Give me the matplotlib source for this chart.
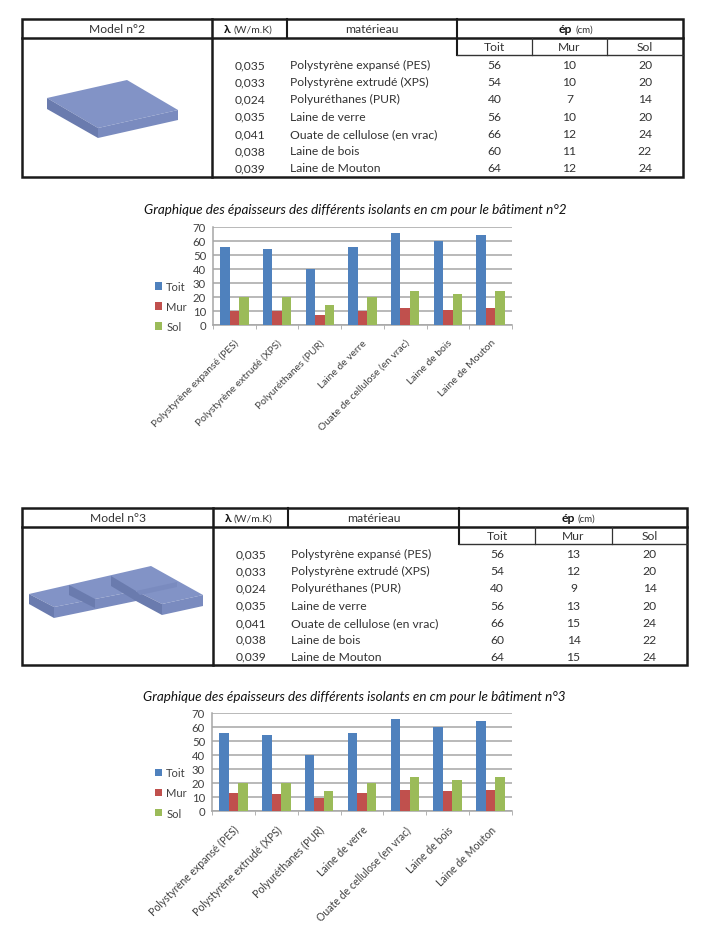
import matplotlib
matplotlib.use('Agg')
import matplotlib.pyplot as plt
from matplotlib.patches import Polygon, Rectangle

plt.rcParams['font.family'] = ['Lato', 'DejaVu Sans']

W, H = 705, 929

materials = ['Polystyrène expansé (PES)', 'Polystyrène extrudé (XPS)', 'Polyuréthanes (PUR)',
             'Laine de verre', 'Ouate de cellulose (en vrac)', 'Laine de bois', 'Laine de Mouton']
lambdas = ['0,035', '0,033', '0,024', '0,035', '0,041', '0,038', '0,039']
toit = [56, 54, 40, 56, 66, 60, 64]
sol = [20, 20, 14, 20, 24, 22, 24]
mur_2 = [10, 10, 7, 10, 12, 11, 12]
mur_3 = [13, 12, 9, 13, 15, 14, 15]
series_names = ['Toit', 'Mur', 'Sol']
series_colors = ['#4F81BD', '#C0504D', '#9BBB59']
y_ticks = [0, 10, 20, 30, 40, 50, 60, 70]

fig = plt.figure(figsize=(W / 100, H / 100), dpi=100)
bg = fig.add_axes([0, 0, 1, 1])
bg.set_xlim(0, W)
bg.set_ylim(H, 0)
bg.axis('off')


def draw_table(name, mur, left, right, top, head, sub, bottom, cols, row_y):
    dark = '#1a1a1a'
    bg.add_patch(Rectangle((left, top), right - left, bottom - top, fill=False, ec=dark, lw=1.8))
    bg.plot([left, right], [head, head], color=dark, lw=1.8)
    bg.plot([cols[0], cols[0]], [top, bottom], color=dark, lw=1.8)
    bg.plot([cols[1], cols[1]], [top, head], color=dark, lw=1.5)
    bg.plot([cols[2], cols[2]], [top, sub], color=dark, lw=1.5)
    bg.plot([cols[2], right], [sub, sub], color='#333333', lw=1)
    for c in cols[3:]:
        bg.plot([c, c], [head, sub], color='#333333', lw=0.9)

    tc = '#333333'
    fs = 8.75
    ym = (top + head) / 2 + 0.5
    bg.text((left + cols[0]) / 2, ym, name, ha='center', va='center', fontsize=fs, color=tc)
    bg.text(cols[0] + 12, ym, 'λ', ha='left', va='center', fontsize=fs, weight='bold', color='#111111')
    bg.text(cols[0] + 21, ym, '(W/m.K)', ha='left', va='center', fontsize=7.5, color=tc)
    bg.text((cols[1] + cols[2]) / 2, ym, 'matérieau', ha='center', va='center', fontsize=fs, color=tc)
    ep_x = (cols[2] + right) / 2
    bg.text(ep_x + 2, ym, 'ép', ha='right', va='center', fontsize=fs, weight='bold', color='#111111')
    bg.text(ep_x + 5, ym, '(cm)', ha='left', va='center', fontsize=7, color=tc)

    centers = [(cols[2] + cols[3]) / 2, (cols[3] + cols[4]) / 2, (cols[4] + right) / 2]
    for cx, s in zip(centers, series_names):
        bg.text(cx, (head + sub) / 2 + 0.5, s, ha='center', va='center', fontsize=fs, color=tc)
    for i, y in enumerate(row_y):
        bg.text(cols[0] + 38, y, lambdas[i], ha='center', va='center', fontsize=fs, color=tc)
        bg.text(cols[1] + 3, y, materials[i], ha='left', va='center', fontsize=fs, color=tc)
        bg.text(centers[0], y, str(toit[i]), ha='center', va='center', fontsize=fs, color=tc)
        bg.text(centers[1], y, str(mur[i]), ha='center', va='center', fontsize=fs, color=tc)
        bg.text(centers[2], y, str(sol[i]), ha='center', va='center', fontsize=fs, color=tc)


def draw_chart(mur, x0, x1, y70, y0, title, title_xy, legend_y, label_size):
    ax = fig.add_axes([x0 / W, 1 - y0 / H, (x1 - x0) / W, (y0 - y70) / H])
    bar_w = 0.222
    all_vals = [toit, mur, sol]
    for k, vals in enumerate(all_vals):
        xs = [i + (k - 1) * bar_w for i in range(len(materials))]
        ax.bar(xs, vals, bar_w, color=series_colors[k], label=series_names[k], zorder=3)
    ax.set_xlim(-0.5, len(materials) - 0.5)
    ax.set_ylim(0, 70)
    ax.set_yticks(y_ticks)
    ax.yaxis.grid(True, color='#A6A6A6', lw=1.1, zorder=0)
    ax.set_axisbelow(True)
    for s in ['top', 'right']:
        ax.spines[s].set_visible(False)
    for s in ['left', 'bottom']:
        ax.spines[s].set_color('#A6A6A6')
        ax.spines[s].set_linewidth(1.1)
    ax.set_xticks([i - 0.5 for i in range(len(materials) + 1)], minor=True)
    ax.set_xticks(range(len(materials)))
    ax.set_xticklabels(materials, rotation=45, ha='right', rotation_mode='anchor',
                       fontsize=label_size, color='#404040')
    ax.tick_params(axis='x', which='major', length=0, pad=9)
    ax.tick_params(axis='x', which='minor', length=3, color='#A6A6A6')
    ax.tick_params(axis='y', length=0, labelsize=8.2, labelcolor='#404040', pad=5)
    # legend placed by hand, left of the plot area
    handles, labels = ax.get_legend_handles_labels()
    ax.legend(handles, labels, loc='center left', frameon=False, fontsize=8,
              labelcolor='#404040', handlelength=0.65, handleheight=0.65, handletextpad=0.35,
              labelspacing=0.82, borderpad=0, borderaxespad=0,
              bbox_to_anchor=(155 / W, 1 - legend_y / H), bbox_transform=fig.transFigure)
    bg.text(title_xy[0], title_xy[1], title, ha='center', va='center', fontsize=9.7,
            style='italic', color='#111111')


def draw_blocks():
    top = '#8293C6'
    mid = '#7A8BBF'
    side = '#6A7BAE'
    # model 2
    bg.add_patch(Polygon([(47, 99), (127, 81), (178, 111), (98, 129)], fc=top, ec='none'))
    bg.add_patch(Polygon([(47, 99), (98, 129), (98, 139), (47, 110)], fc=side, ec='none'))
    bg.add_patch(Polygon([(98, 129), (178, 111), (178, 121), (98, 139)], fc=mid, ec='none'))
    # model 3
    bg.add_patch(Polygon([(29, 595), (151, 567), (203, 596), (162, 605), (136, 592), (54, 608)],
                         fc=top, ec='none'))
    bg.add_patch(Polygon([(29, 595), (54, 608), (54, 619), (29, 605)], fc=side, ec='none'))
    bg.add_patch(Polygon([(54, 608), (136, 592), (136, 602), (54, 619)], fc=mid, ec='none'))
    bg.add_patch(Polygon([(136, 592), (162, 605), (162, 616), (136, 602)], fc=side, ec='none'))
    bg.add_patch(Polygon([(162, 605), (203, 596), (203, 607), (162, 616)], fc=mid, ec='none'))
    # stepped faces between the building parts
    bg.add_patch(Polygon([(69, 586), (95, 600), (95, 609), (69, 596)], fc=side, ec='none'))
    bg.add_patch(Polygon([(111, 577), (136, 592), (136, 602), (111, 587)], fc=side, ec='none'))
    bg.add_patch(Polygon([(136, 592), (177, 583), (177, 588), (140, 596)], fc=mid, ec='none'))


draw_table('Model n°2', mur_2, 22, 683, 20, 38.5, 56, 178, [212, 287, 457, 532, 607],
           [65.5, 82.8, 99.8, 117.2, 134.5, 151.8, 168.8])
draw_table('Model n°3', mur_3, 22, 687, 509, 527.5, 545, 666, [213, 288, 459, 535, 612],
           [554.5, 571.5, 588.8, 606.2, 623.5, 640.2, 657.2])
draw_blocks()
draw_chart(mur_2, 213, 512, 228, 326,
           'Graphique des épaisseurs des différents isolants en cm pour le bâtiment n°2',
           (355, 210), 307.5, 7.4)
draw_chart(mur_3, 212, 512, 714, 812,
           'Graphique des épaisseurs des différents isolants en cm pour le bâtiment n°3',
           (354, 697), 794, 7.6)

fig.savefig('out.png', dpi=100)
